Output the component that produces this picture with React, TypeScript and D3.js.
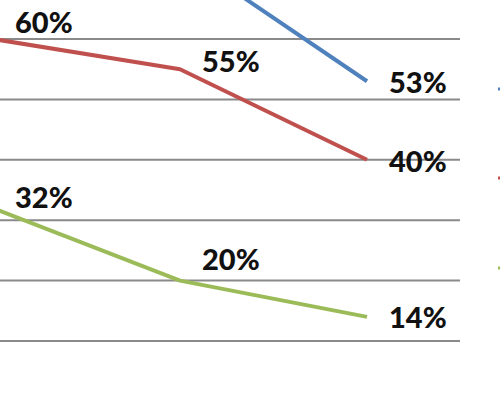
import React from "react";
import * as d3 from "d3";

const categories = ["P1", "P2", "P3"];
const blueValues = [79, 74, 53];
const redValues = [60, 55, 40];
const greenValues = [32, 20, 14];
const blueLabels = ["79%", "74%", "53%"];
const redLabels = ["60%", "55%", "40%"];
const greenLabels = ["32%", "20%", "14%"];
const gridTicks = [10, 20, 30, 40, 50, 60, 70];

const W = 500;
const H = 400;

const x = d3.scalePoint<string>().domain(categories).range([-7, 367]);
const y = d3.scaleLinear().domain([10, 60]).range([341, 39]);

const series = [
  { name: "blue", values: blueValues, labels: blueLabels, color: "#4F81BD", dy: [12, 12, 12], legendY: 89 },
  { name: "red", values: redValues, labels: redLabels, color: "#C0504D", dy: [-6, 3, 12], legendY: 178 },
  { name: "green", values: greenValues, labels: greenLabels, color: "#9BBB59", dy: [0, -11, 11], legendY: 268 },
];

const line = d3
  .line<number>()
  .x((_, i) => x(categories[i]) as number)
  .y((d) => y(d));

export default function App() {
  return (
    <svg
      width={W}
      height={H}
      style={{ position: "absolute", left: 0, top: 0, background: "#fff" }}
    >
      <rect width={W} height={H} fill="#fff" />
      {gridTicks.map((t) => (
        <line key={t} x1={0} x2={460} y1={y(t)} y2={y(t)} stroke="#8a8a8a" strokeWidth={2} />
      ))}
      {series.map((s) => (
        <g key={s.name}>
          <path d={line(s.values) || ""} fill="none" stroke={s.color} strokeWidth={4} strokeLinejoin="round" />
          {s.values.map((v, i) =>
            y(v) + s.dy[i] - 22 < 0 ? null : (
              <text
                key={i}
                x={(x(categories[i]) as number) + 22}
                y={y(v) + s.dy[i]}
                fontFamily="Lato, 'Open Sans', sans-serif"
                fontWeight={900}
                fontSize={29}
                fill="#111"
              >
                {s.labels[i]}
              </text>
            )
          )}
          <line x1={498} x2={530} y1={s.legendY} y2={s.legendY} stroke={s.color} strokeWidth={3} />
        </g>
      ))}
    </svg>
  );
}
